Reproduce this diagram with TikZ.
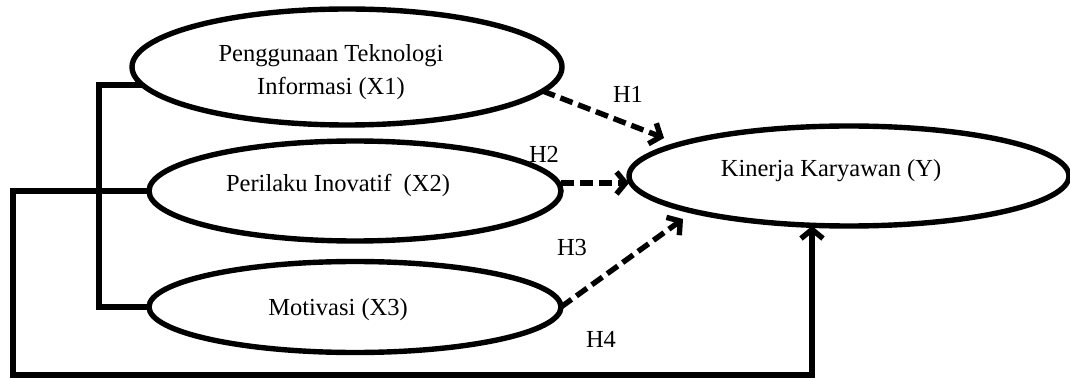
\documentclass[tikz,border=0pt]{standalone}
\usepackage{fontspec}
\setmainfont{Liberation Serif}
\usetikzlibrary{shapes.geometric,arrows.meta}
\begin{document}
\begin{tikzpicture}[x=1pt,y=-1pt,
  oval/.style={ellipse,draw,line width=5.4pt,inner sep=0pt,outer sep=0pt},
  txt/.style={anchor=base,inner sep=0pt,font=\fontsize{24.5}{29}\selectfont},
  conn/.style={line width=5.4pt,line join=miter},
  dasharrow/.style={line width=5.4pt,dash pattern=on 13pt off 6pt,-{Straight Barb[length=9pt,width=22pt,line width=5.4pt]}},
  solidarrow/.style={line width=5.4pt,line join=miter,-{Straight Barb[length=9pt,width=22pt,line width=5.4pt]}}]
\useasboundingbox (0,0) rectangle (1070,379);
% ellipses
\node[oval,minimum width=430pt,minimum height=116pt] (X1) at (347,67) {};
\node[oval,minimum width=412pt,minimum height=100pt] (X2) at (355,191) {};
\node[oval,minimum width=412pt,minimum height=91pt] (X3) at (355,307) {};
\node[oval,minimum width=440pt,minimum height=100pt] (Y) at (849,176) {};
% texts
\node[txt] (t1a) at (331,62) {Penggunaan Teknologi};
\node[txt] (t1b) at (331,95) {Informasi (X1)};
\node[txt] (t2) at (338,192) {Perilaku Inovatif\ \ (X2)};
\node[txt] (t3) at (338,315) {Motivasi (X3)};
\node[txt] (ty) at (831,177) {Kinerja Karyawan (Y)};
% labels
\node[txt] (h1) at (628,103) {H1};
\node[txt] (h2) at (544,163) {H2};
\node[txt] (h3) at (572,255) {H3};
\node[txt] (h4) at (601,347) {H4};
% bracket
\coordinate (bx) at (99,0);
\coordinate (ox) at (13,0);
\coordinate (bt) at (bx |- X1.185);
\coordinate (bm) at (bx |- X2.west);
\coordinate (bb) at (bx |- X3.west);
\coordinate (ol) at (ox |- X2.west);
\coordinate (olb) at (13,375);
\coordinate (orb) at (812,375);
\draw[conn] (X1.185) -- (bt) -- (bb) -- (X3.west);
\draw[conn] (bm) -- (X2.west);
\draw[solidarrow] (bm) -- (ol) -- (olb) -- (orb) -- (orb |- Y.south);
% dashed arrows
\coordinate (e1) at (664,138);
\coordinate (e2) at (629,183);
\coordinate (e3) at (683,219);
\draw[dasharrow] (X1.353) -- (e1);
\draw[dasharrow] (X2.east |- e2) -- (e2);
\draw[dasharrow] (X3.east) -- (e3);
\end{tikzpicture}
\end{document}
